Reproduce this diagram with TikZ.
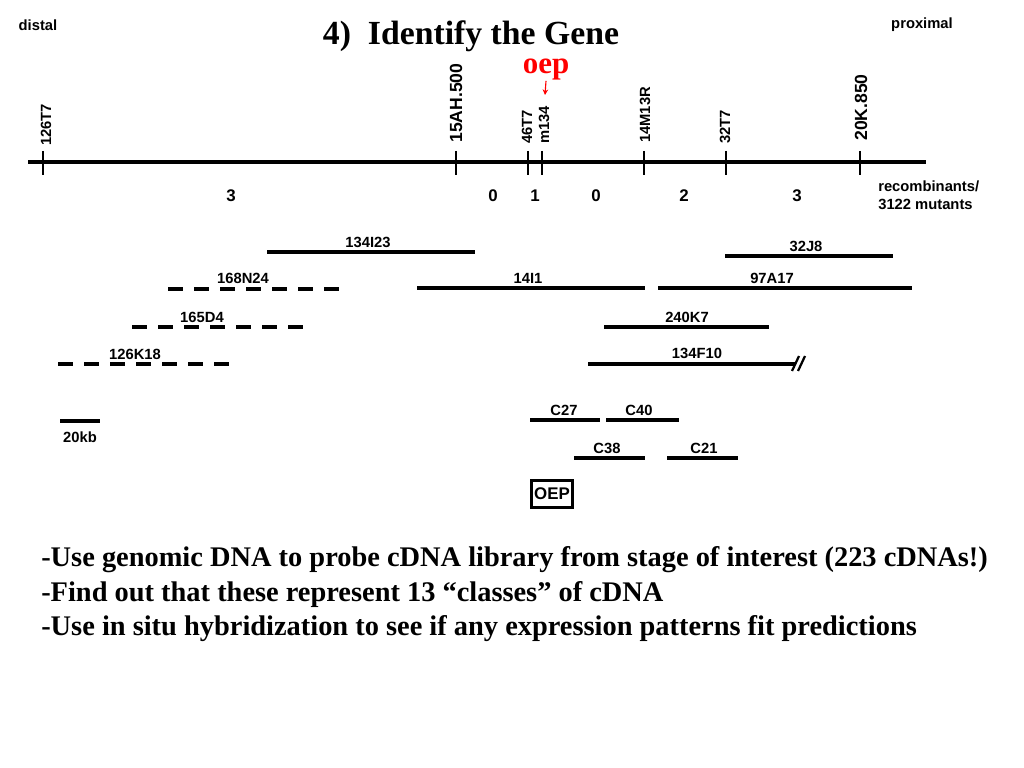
\documentclass[tikz,border=0pt]{standalone}
\usepackage{fontspec}
\setmainfont{Liberation Serif}
\setsansfont{Liberation Sans}
\usetikzlibrary{arrows.meta,positioning}

\begin{document}
\begin{tikzpicture}[x=0.025cm, y=-0.025cm,
        maptext/.style={font=\sffamily\bfseries\fontsize{10.5}{12}\selectfont, inner sep=0pt},
        marker/.style={maptext, rotate=90, anchor=west},
        bigmarker/.style={marker, font=\sffamily\bfseries\fontsize{12.5}{14}\selectfont},
        count/.style={font=\sffamily\bfseries\fontsize{12}{14}\selectfont, inner sep=0pt},
        tickmark/.style={line width=1.8pt},
        clone/.style={line width=2.3pt},
        yacclone/.style={line width=2.6pt, dash pattern=on 10.5pt off 8pt},
        slide/.style={font=\bfseries\fontsize{20.2}{24}\selectfont, anchor=west, inner sep=0pt},
    ]
        \useasboundingbox (0,0) rectangle (1024,768);

        % Title
        \node[font=\bfseries\fontsize{24}{28}\selectfont, inner sep=0pt] (title) at (471,36) {4)\ \ Identify the Gene};
        \node[maptext] (distal) at (38,25) {distal};
        \node[maptext] (proximal) at (922,25) {proximal};

        % Physical map
        \draw[line width=2.8pt] (28,162) -- (926,162);
        \draw[tickmark] (43,151) -- (43,175);
        \draw[tickmark] (456,151) -- (456,175);
        \draw[tickmark] (528,151) -- (528,175);
        \draw[tickmark] (542,151) -- (542,175);
        \draw[tickmark] (644,151) -- (644,175);
        \draw[tickmark] (726,151) -- (726,175);
        \draw[tickmark] (860,151) -- (860,175);

        % Markers
        \node[marker] (m126T7) at (46,146) {126T7};
        \node[bigmarker] (m15AH) at (456,143) {15AH.500};
        \node[marker] (m46T7) at (527,144) {46T7};
        \node[marker] (m134) at (544,144) {m134};
        \node[marker] (m14M13R) at (645,143) {14M13R};
        \node[marker] (m32T7) at (725,144) {32T7};
        \node[bigmarker] (m20K) at (861,141) {20K.850};

        % Mutant
        \node[red, font=\bfseries\fontsize{22}{26}\selectfont, inner sep=0pt, anchor=base] (oep) at (546,74) {oep};
        \coordinate (oeptip) at (545,95);
        \draw[red, line width=0.8pt, -{Stealth[length=4pt, width=4pt]}] (oep.south) -- (oeptip);

        % Recombinants
        \node[count] (r1) at (231,196) {3};
        \node[count] (r2) at (493,196) {0};
        \node[count] (r3) at (535,196) {1};
        \node[count] (r4) at (596,196) {0};
        \node[count] (r5) at (684,196) {2};
        \node[count] (r6) at (797,196) {3};
        \node[maptext, anchor=west] (rec) at (878,186) {recombinants/};
        \node[maptext, anchor=west] (mut) at (878,204) {3122 mutants};

        % Clones
        \draw[clone] (267,252) -- (475,252);
        \node[maptext] (c134I23) at (368,242) {134I23};
        \draw[clone] (725,256) -- (893,256);
        \node[maptext] (c32J8) at (806,246) {32J8};
        \draw[yacclone] (168,289) -- (345,289);
        \node[maptext] (c168N24) at (243,278) {168N24};
        \draw[clone] (417,288) -- (645,288);
        \node[maptext] (c14I1) at (528,278) {14I1};
        \draw[clone] (658,288) -- (912,288);
        \node[maptext] (c97A17) at (772,278) {97A17};
        \draw[yacclone] (132,327) -- (308,327);
        \node[maptext] (c165D4) at (202,317) {165D4};
        \draw[clone] (604,327) -- (769,327);
        \node[maptext] (c240K7) at (687,317) {240K7};
        \draw[yacclone] (58,364) -- (235,364);
        \node[maptext] (c126K18) at (135,354) {126K18};
        \draw[clone] (588,364) -- (795,364);
        \node[maptext] (c134F10) at (697,353) {134F10};
        \draw[line width=1.6pt] (792,371) -- (799,356);
        \draw[line width=1.6pt] (798,371) -- (805,356);

        % Scale bar
        \draw[clone] (60,421) -- (100,421);
        \node[maptext] (kb) at (80,437) {20kb};

        % cDNAs
        \draw[clone] (530,420) -- (600,420);
        \node[maptext] (cC27) at (564,410) {C27};
        \draw[clone] (606,420) -- (679,420);
        \node[maptext] (cC40) at (639,410) {C40};
        \draw[clone] (574,458) -- (645,458);
        \node[maptext] (cC38) at (607,448) {C38};
        \draw[clone] (667,458) -- (738,458);
        \node[maptext] (cC21) at (704,448) {C21};
        \node[draw, line width=2pt, font=\sffamily\bfseries\fontsize{12}{14}\selectfont, inner sep=0pt,
            minimum width=1.02cm, minimum height=0.66cm] (gene) at (552,494) {OEP};

        % Notes
        \node[slide] (note1) at (41,560) {-Use genomic DNA to probe cDNA library from stage of interest (223 cDNAs!)};
        \node[slide] (note2) at (41,595) {-Find out that these represent 13 “classes” of cDNA};
        \node[slide] (note3) at (41,629) {-Use in situ hybridization to see if any expression patterns fit predictions};
    \end{tikzpicture}
\end{document}
